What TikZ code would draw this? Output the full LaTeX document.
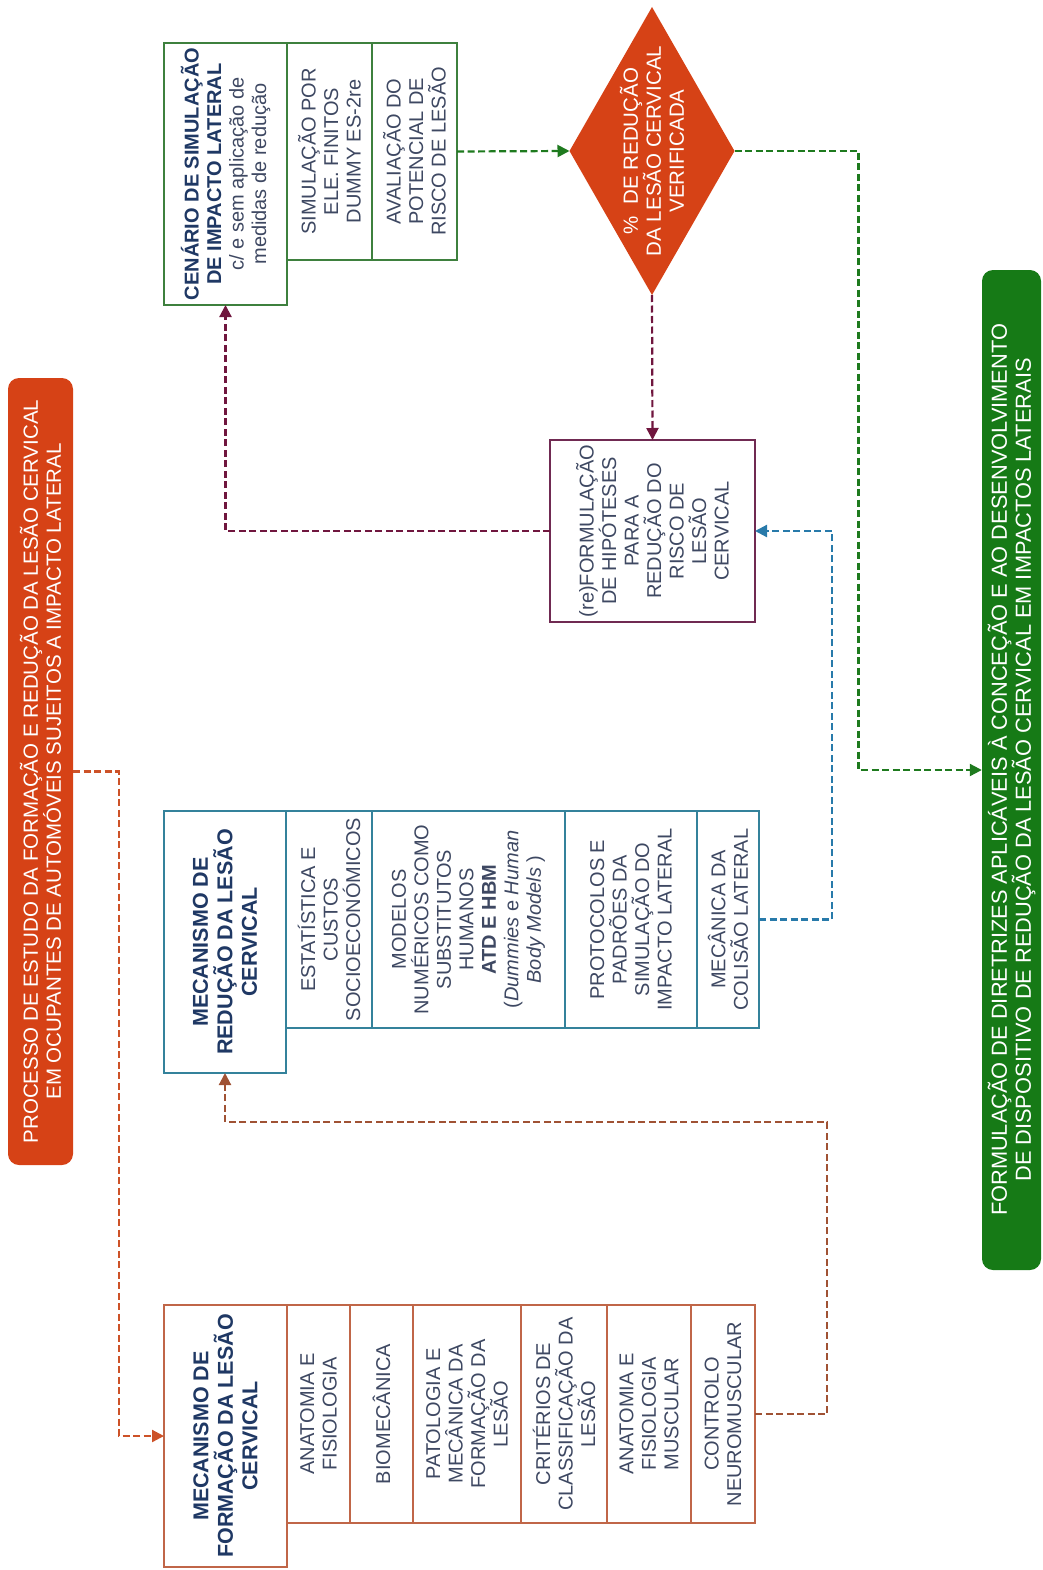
\documentclass[tikz,border=0pt]{standalone}
\usepackage{fontspec}
\setmainfont{Liberation Sans}
\usepackage{tikz}
\usetikzlibrary{arrows.meta,shapes.geometric}

\definecolor{fireRed}{RGB}{214,66,22}
\definecolor{goalGreen}{RGB}{22,122,22}
\definecolor{formLine}{RGB}{192,102,72}
\definecolor{redLine}{RGB}{52,130,155}
\definecolor{cenLine}{RGB}{62,128,62}
\definecolor{hypLine}{RGB}{112,42,82}
\definecolor{headTxt}{RGB}{31,56,100}
\definecolor{cellTxt}{RGB}{62,72,98}
\definecolor{orangeDash}{RGB}{205,82,40}
\definecolor{brownDash}{RGB}{160,82,52}
\definecolor{blueDash}{RGB}{40,122,170}
\definecolor{purpleDash}{RGB}{112,22,62}
\definecolor{greenDash}{RGB}{30,122,30}

\tikzset{
  cell/.style={draw, rotate=90, align=center, inner sep=2pt, outer sep=0pt, line width=1.2pt,
    text=cellTxt, font=\fontsize{20}{22.5}\selectfont},
  head/.style={cell, text=headTxt, font=\fontsize{21.5}{24.5}\selectfont\bfseries},
  flow/.style={line width=2.2pt, dash pattern=on 7pt off 3.5pt, -{Triangle[length=12pt,width=12pt]}},
  banner/.style={rotate=90, rounded corners=11pt, align=center, text=white, inner sep=0pt}
}

\begin{document}
\begin{tikzpicture}[x=1pt,y=1pt,yscale=-1,xscale=1]
\useasboundingbox (0,0) rectangle (1043,1570);

% Banner nodes
\node [banner, fill=fireRed, minimum width=787, minimum height=65, font=\fontsize{20.5}{23}\selectfont] (title) at (40.5,771.5)
  {PROCESSO DE ESTUDO DA FORMAÇÃO E REDUÇÃO DA LESÃO CERVICAL\\EM OCUPANTES DE AUTOMÓVEIS SUJEITOS A IMPACTO LATERAL};
\node [banner, fill=goalGreen, minimum width=1000, minimum height=59, font=\fontsize{21.8}{24}\selectfont] (goal) at (1011.5,770)
  {FORMULAÇÃO DE DIRETRIZES APLICÁVEIS À CONCEÇÃO E AO DESENVOLVIMENTO\\DE DISPOSITIVO DE REDUÇÃO DA LESÃO CERVICAL EM IMPACTOS LATERAIS};

% Formacao block
\node [head, draw=formLine, minimum width=262, minimum height=123] (fh) at (225.5,1436)
  {MECANISMO DE\\FORMAÇÃO DA LESÃO\\CERVICAL};
\node [cell, draw=formLine, minimum width=218, minimum height=63] (f1) at (318.5,1414) {ANATOMIA E\\FISIOLOGIA};
\node [cell, draw=formLine, minimum width=218, minimum height=63] (f2) at (381.5,1414) {BIOMECÂNICA};
\node [cell, draw=formLine, minimum width=218, minimum height=108] (f3) at (467,1414)
  {PATOLOGIA E\\MECÂNICA DA\\FORMAÇÃO DA\\LESÃO};
\node [cell, draw=formLine, minimum width=218, minimum height=86] (f4) at (564,1414)
  {CRITÉRIOS DE\\CLASSIFICAÇÃO DA\\LESÃO};
\node [cell, draw=formLine, minimum width=218, minimum height=84] (f5) at (649,1414)
  {ANATOMIA E\\FISIOLOGIA\\MUSCULAR};
\node [cell, draw=formLine, minimum width=218, minimum height=64] (f6) at (723,1414)
  {CONTROLO\\NEUROMUSCULAR};

% Reducao block
\node [head, draw=redLine, minimum width=262, minimum height=122] (rh) at (225,942)
  {MECANISMO DE\\REDUÇÃO DA LESÃO\\CERVICAL};
\node [cell, draw=redLine, minimum width=217, minimum height=86] (r1) at (329,919.5)
  {ESTATÍSTICA E\\CUSTOS\\SOCIOECONÓMICOS};
\node [cell, draw=redLine, minimum width=217, minimum height=193] (r2) at (468.5,919.5)
  {MODELOS\\NUMÉRICOS COMO\\SUBSTITUTOS\\HUMANOS\\\textbf{ATD E HBM}\\(\textit{Dummies} e \textit{Human}\\\textit{Body Models} )};
\node [cell, draw=redLine, minimum width=217, minimum height=132] (r3) at (631,919.5)
  {PROTOCOLOS E\\PADRÕES DA\\SIMULAÇÃO DO\\IMPACTO LATERAL};
\node [cell, draw=redLine, minimum width=217, minimum height=62] (r4) at (728,919.5)
  {MECÂNICA DA\\COLISÃO LATERAL};

% Cenario block
\node [cell, draw=cenLine, minimum width=262, minimum height=123] (ch) at (225.5,174)
  {\textbf{\textcolor{headTxt}{CENÁRIO DE SIMULAÇÃO}}\\\textbf{\textcolor{headTxt}{DE IMPACTO LATERAL}}\\c/ e sem aplicação de\\medidas de redução};
\node [cell, draw=cenLine, minimum width=217, minimum height=85] (c1) at (329.5,151.5)
  {SIMULAÇÃO POR\\ELE. FINITOS\\DUMMY ES-2re};
\node [cell, draw=cenLine, minimum width=217, minimum height=85] (c2) at (414.5,151.5)
  {AVALIAÇÃO DO\\POTENCIAL DE\\RISCO DE LESÃO};

% Hipoteses
\node [cell, draw=hypLine, minimum width=182, minimum height=205] (hyp) at (652.5,531)
  {(re)FORMULAÇÃO\\DE HIPÓTESES\\PARA A\\REDUÇÃO DO\\RISCO DE\\LESÃO\\CERVICAL};

% Decision
\node [diamond, fill=fireRed, inner sep=0pt, outer sep=0pt, minimum width=165, minimum height=288] (dia) at (652,151) {};
\node [rotate=90, align=center, text=white, font=\fontsize{20.5}{23}\selectfont] (diatxt) at (dia.center)
  {\%\ \ DE REDUÇÃO\\DA LESÃO CERVICAL\\VERIFICADA};

% Connectors
\draw [flow, orangeDash] (title.south) -- ++(46,0) |- (fh.north);
\draw [flow, brownDash] (f6.south) -- ++(72,0) -- ++(0,-292) -| (rh.west);
\draw [flow, blueDash] (r4.south) -- ++(73,0) |- (hyp.south);
\draw [flow, purpleDash] (hyp.north) -| (ch.west);
\draw [flow, purpleDash] (dia.south) -- (hyp.east);
\draw [flow, greenDash] (c2.south) -- (dia.west);
\draw [flow, greenDash] (dia.east) -- ++(124,0) |- (goal.north);

\end{tikzpicture}
\end{document}
